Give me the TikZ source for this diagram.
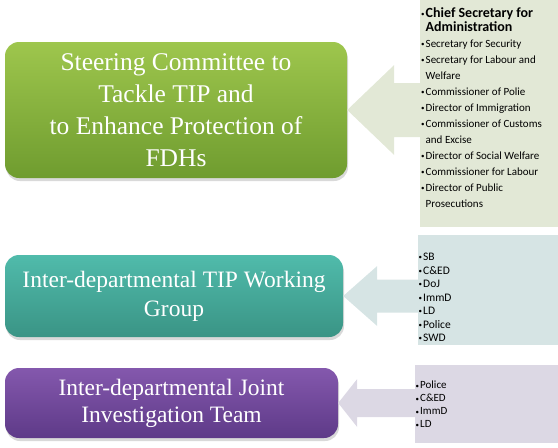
\documentclass[tikz,border=0pt]{standalone}
\usepackage{fontspec}
\setmainfont{Liberation Serif}
\newfontfamily\listfont{Carlito}
\usetikzlibrary{positioning, shadows, calc}
\definecolor{grnTop}{HTML}{9EC64D}
\definecolor{grnBot}{HTML}{6F9C2F}
\definecolor{tealTop}{HTML}{50BBAB}
\definecolor{tealBot}{HTML}{3A9485}
\definecolor{purTop}{HTML}{8458AD}
\definecolor{purBot}{HTML}{5E3A88}
\definecolor{grnPale}{HTML}{E2E8D6}
\definecolor{tealPale}{HTML}{D6E4E4}
\definecolor{purPale}{HTML}{DCD8E4}
\newcommand{\itm}{\makebox[4.5pt][l]{\raisebox{0.8pt}{\fontsize{7}{7}\selectfont\textbullet}}}
\newcommand{\cnt}{\hspace*{4.5pt}}
% block arrow: style, list node, body node, head length, head half, shaft half
\newcommand{\blockarrow}[6]{%
  \fill[#1] (#3.east) -- ++(#4,-#5) -- ++(0,#5-#6) coordinate (ba) -- (ba -| #2.west)
    -- ++(0,2*#6) -- ($(#3.east)+(#4,#6)$) -- ++(0,#5-#6) -- cycle;}
\tikzset{
  body/.style={draw=none, top color=#1Top, bottom color=#1Bot, rounded corners=14pt,
               text=white, align=center, inner sep=2pt,
               drop shadow={opacity=0.3, shadow xshift=1pt, shadow yshift=-3pt}},
  lst/.style={draw=none, fill=#1, anchor=north west, inner sep=0pt},
  items/.style 2 args={anchor=north west, align=left, inner sep=0pt,
                       font=\listfont\fontsize{#1}{#2}\selectfont},
}
\begin{document}
\begin{tikzpicture}[x=1pt, y=-1pt]
    \useasboundingbox (0,0) rectangle (558,448);
    % member lists
    \node[lst=grnPale, minimum width=138pt, minimum height=227pt]  (comm) at (420,0)   {};
    \node[lst=tealPale, minimum width=140pt, minimum height=110pt] (wgrp) at (418,235) {};
    \node[lst=purPale, minimum width=143pt, minimum height=78pt]   (jteam) at (415,365) {};
    % bodies
    \node[body=grn, minimum width=342pt, minimum height=136pt, font=\fontsize{25.5}{32}\selectfont]
      (steer) at (176,110) {Steering Committee to\\Tackle TIP and\\to Enhance Protection of\\FDHs};
    \node[body=teal, minimum width=338pt, minimum height=82pt, font=\fontsize{23.5}{29}\selectfont]
      (work) at (174,296) {Inter-departmental TIP Working\\Group};
    \node[body=pur, minimum width=333pt, minimum height=70pt, font=\fontsize{23.5}{27}\selectfont]
      (joint) at (171.5,403) {Inter-departmental Joint\\Investigation Team};
    % arrows
    \blockarrow{grnPale}{comm}{steer}{47}{45}{27}
    \blockarrow{tealPale}{wgrp}{work}{34}{30}{16.5}
    \blockarrow{purPale}{jteam}{joint}{19}{24}{14}
    % list texts
    \node[items={11}{16}] (commtxt) at (421,7) {%
      \itm{\bfseries\fontsize{14}{14}\selectfont Chief Secretary for}\\[-2pt]
      \cnt{\bfseries\fontsize{14}{14}\selectfont Administration}\\
      \itm Secretary for Security\\
      \itm Secretary for Labour and\\
      \cnt Welfare\\
      \itm Commissioner of Polie\\
      \itm Director of Immigration\\
      \itm Commissioner of Customs\\
      \cnt and Excise\\
      \itm Director of Social Welfare\\
      \itm Commissioner for Labour\\
      \itm Director of Public\\
      \cnt Prosecutions};
    \node[items={11.5}{13.5}] (wgrptxt) at (418.5,253) {%
      \itm SB\\ \itm C\&ED\\ \itm DoJ\\ \itm ImmD\\ \itm LD\\ \itm Police\\ \itm SWD};
    \node[items={11}{13}] (jteamtxt) at (415.5,381) {%
      \itm Police\\ \itm C\&ED\\ \itm ImmD\\ \itm LD};
\end{tikzpicture}
\end{document}
